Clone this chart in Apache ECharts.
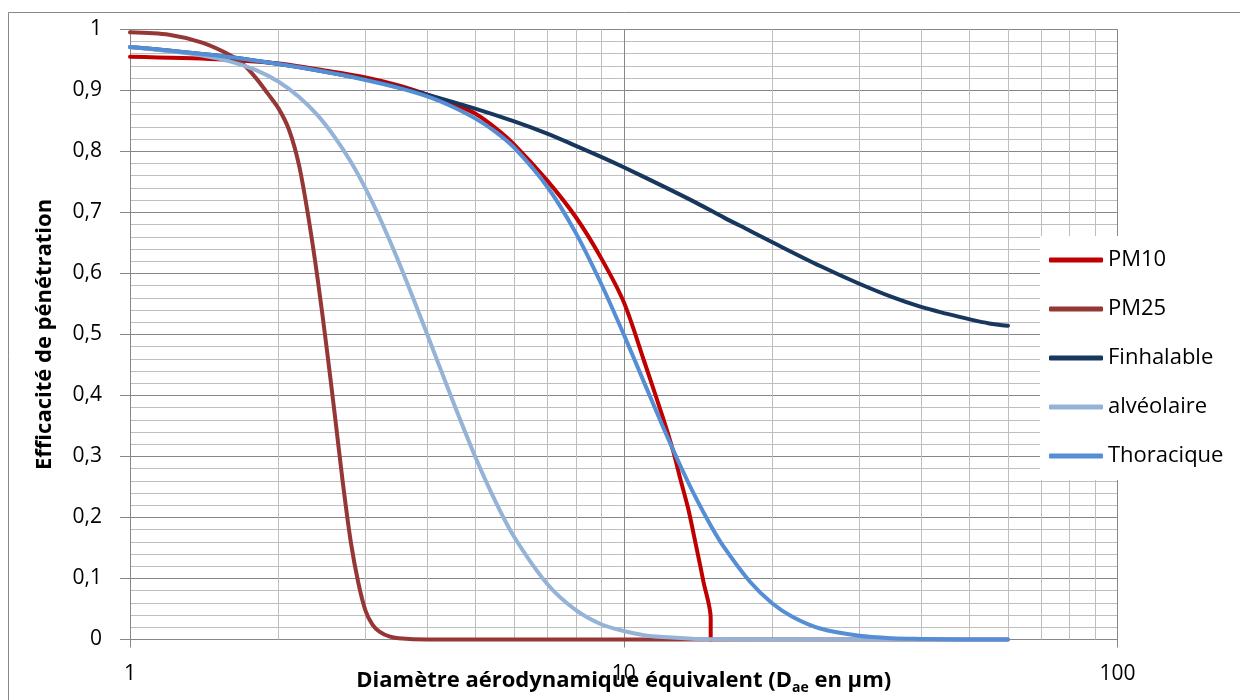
<!DOCTYPE html>
<html>
<head>
<meta charset="utf-8">
<script src="https://cdn.jsdelivr.net/npm/echarts@6/dist/echarts.min.js"></script>
<style>
html,body{margin:0;padding:0;background:#fff;}
#c{width:1240px;height:700px;}
</style>
</head>
<body>
<div id="c"></div>
<script>
// ---- Data ----
const seriesNames = ['PM10', 'PM25', 'Finhalable', 'alvéolaire', 'Thoracique'];
const seriesColors = ['#C00000', '#953735', '#17375E', '#95B3D7', '#558ED5'];

const pm10Diam = [1, 1.5, 2, 2.5, 3, 3.5, 4, 4.5, 5, 5.5, 6, 7, 8, 9, 10, 11, 12, 12.6, 13, 13.5, 14, 14.5, 15, 15];
const pm10Eff  = [0.955, 0.951, 0.944, 0.932, 0.921, 0.908, 0.893, 0.878, 0.862, 0.838, 0.811, 0.752, 0.692, 0.625, 0.553, 0.456, 0.364, 0.308, 0.265, 0.215, 0.155, 0.095, 0.035, 0];

const pm25Diam = [1, 1.2, 1.4, 1.6, 1.7, 1.8, 1.9, 2, 2.1, 2.2, 2.3, 2.4, 2.5, 2.6, 2.7, 2.8, 2.9, 3, 3.1, 3.2, 3.35, 3.5, 4, 5, 7, 10, 15, 20, 30, 60];
const pm25Eff  = [0.995, 0.991, 0.978, 0.957, 0.942, 0.92, 0.895, 0.87, 0.835, 0.777, 0.69, 0.59, 0.48, 0.367, 0.255, 0.16, 0.093, 0.047, 0.024, 0.013, 0.005, 0.002, 0, 0, 0, 0, 0, 0, 0, 0];

const finDiam = [1, 1.5, 2, 2.5, 3, 3.5, 4, 5, 6, 7, 8, 9, 10, 12, 14, 16, 18, 20, 25, 30, 35, 40, 45, 50, 55, 60];
const finEff  = [0.971, 0.957, 0.943, 0.930, 0.918, 0.905, 0.893, 0.870, 0.849, 0.829, 0.809, 0.791, 0.774, 0.743, 0.716, 0.691, 0.670, 0.651, 0.612, 0.583, 0.561, 0.545, 0.534, 0.525, 0.518, 0.514];

const alvDiam = [1, 1.2, 1.4, 1.6, 1.8, 2, 2.2, 2.4, 2.6, 2.8, 3, 3.2, 3.5, 4, 4.5, 5, 5.5, 6, 7, 8, 9, 10, 11, 12, 14, 16, 20, 30, 60];
const alvEff  = [0.971, 0.964, 0.957, 0.947, 0.933, 0.914, 0.889, 0.859, 0.823, 0.783, 0.739, 0.692, 0.619, 0.500, 0.392, 0.300, 0.226, 0.168, 0.091, 0.048, 0.025, 0.014, 0.007, 0.004, 0.001, 0.0004, 0, 0, 0];

const thorDiam = [1, 1.5, 2, 2.5, 3, 3.5, 4, 4.5, 5, 5.5, 6, 7, 8, 9, 10, 11, 12, 13, 14, 15, 16, 18, 20, 22, 25, 30, 35, 40, 50, 60];
const thorEff  = [0.971, 0.957, 0.943, 0.930, 0.917, 0.904, 0.890, 0.873, 0.854, 0.832, 0.806, 0.742, 0.666, 0.583, 0.500, 0.421, 0.349, 0.286, 0.232, 0.187, 0.150, 0.095, 0.059, 0.037, 0.018, 0.006, 0.002, 0.001, 0, 0];

const minorGridX = [2, 3, 4, 5, 6, 7, 8, 9, 20, 30, 40, 50, 60, 70, 80, 90];
const xAxisTitle = 'Diamètre aérodynamique équivalent (D{sub|ae} en µm)';
const yAxisTitle = 'Efficacité de pénétration';

// ---- Build ----
const FONT = "'Open Sans', 'Liberation Sans', sans-serif";
const MAJOR = '#878787';
const MINOR = '#BEBEBE';

function pairs(xs, ys) { return xs.map((x, i) => [x, ys[i]]); }
const allData = [
  pairs(pm10Diam, pm10Eff),
  pairs(pm25Diam, pm25Eff),
  pairs(finDiam, finEff),
  pairs(alvDiam, alvEff),
  pairs(thorDiam, thorEff)
];

const series = seriesNames.map((name, i) => {
  const s = {
    name: name,
    type: 'line',
    data: allData[i],
    showSymbol: false,
    symbol: 'none',
    smooth: 0.3,
    clip: false,
    z: 2 + i * 0.01,
    lineStyle: { color: seriesColors[i], width: 4, cap: 'round', join: 'round' },
    itemStyle: { color: seriesColors[i] },
    emphasis: { disabled: true }
  };
  if (i === 0) {
    s.markLine = {
      silent: true,
      z: 1,
      symbol: ['none', 'none'],
      label: { show: false },
      emphasis: { disabled: true },
      animation: false,
      lineStyle: { color: MINOR, width: 1, type: 'solid' },
      data: minorGridX.map(v => ({ xAxis: v }))
    };
  }
  return s;
});

const chart = echarts.init(document.getElementById('c'), null, { renderer: 'canvas' });
chart.setOption({
  animation: false,
  backgroundColor: '#fff',
  textStyle: { fontFamily: FONT },
  graphic: [{
    type: 'rect',
    silent: true,
    z: -10,
    shape: { x: 8.5, y: 12.5, width: 1400, height: 900 },
    style: { fill: 'none', stroke: MAJOR, lineWidth: 1 }
  }],
  grid: { left: 130, right: 122.5, top: 29.3, bottom: 60.5, containLabel: false, outerBoundsMode: 'none' },
  legend: {
    data: seriesNames,
    orient: 'vertical',
    left: 1040,
    top: 236,
    backgroundColor: '#fff',
    padding: [12, 8, 12, 9],
    itemWidth: 54,
    itemHeight: 5,
    itemGap: 25,
    icon: 'roundRect',
    selectedMode: false,
    textStyle: { fontFamily: FONT, fontSize: 22, color: '#000', lineHeight: 24 }
  },
  xAxis: {
    type: 'log',
    logBase: 10,
    min: 1,
    max: 100,
    name: xAxisTitle,
    nameLocation: 'middle',
    nameGap: 26,
    nameMoveOverlap: false,
    nameTextStyle: {
      fontFamily: FONT, fontSize: 22, fontWeight: 'bold', color: '#000', lineHeight: 30,
      rich: { sub: { fontFamily: FONT, fontSize: 14, fontWeight: 'bold', color: '#000', verticalAlign: 'bottom', lineHeight: 14 } }
    },
    axisLine: { show: true, lineStyle: { color: MAJOR, width: 1 } },
    axisTick: { show: true, length: 8, lineStyle: { color: MAJOR } },
    axisLabel: {
      fontFamily: FONT, fontSize: 21, color: '#000', margin: 24,
      formatter: v => String(Math.round(v))
    },
    splitLine: { show: true, lineStyle: { color: MAJOR, width: 1 } },
    minorTick: { show: false },
    minorSplitLine: { show: false }
  },
  yAxis: {
    type: 'value',
    min: 0,
    max: 1,
    interval: 0.1,
    name: yAxisTitle,
    nameLocation: 'middle',
    nameGap: 74,
    nameRotate: 90,
    nameMoveOverlap: false,
    nameTextStyle: { fontFamily: FONT, fontSize: 22, fontWeight: 'bold', color: '#000' },
    axisLine: { show: true, lineStyle: { color: MAJOR, width: 1 } },
    axisTick: { show: true, length: 10, lineStyle: { color: MAJOR } },
    axisLabel: {
      fontFamily: FONT, fontSize: 21, color: '#000', margin: 28,
      formatter: v => String(Math.round(v * 10) / 10).replace('.', ',')
    },
    splitLine: { show: true, lineStyle: { color: MAJOR, width: 1 } },
    minorTick: { show: false, splitNumber: 5 },
    minorSplitLine: { show: true, lineStyle: { color: MINOR, width: 1 } }
  },
  series: series
});
</script>
</body>
</html>
